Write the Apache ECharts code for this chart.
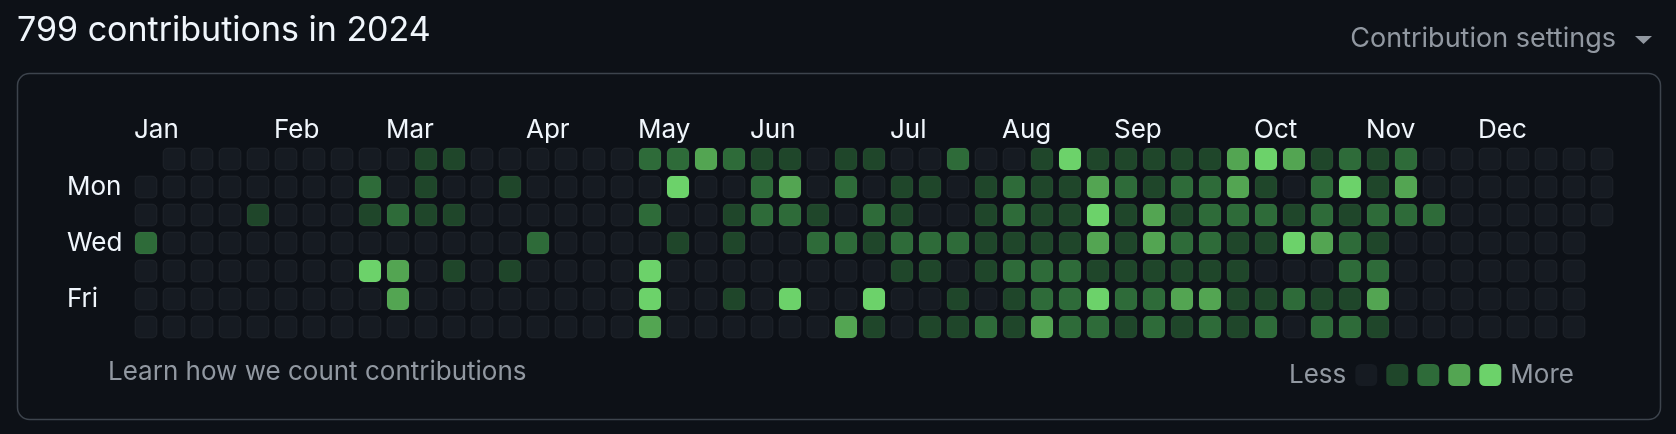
<!DOCTYPE html>
<html>
<head>
<meta charset="utf-8">
<script src="https://cdn.jsdelivr.net/npm/echarts@6/dist/echarts.min.js"></script>
<style>
html,body{margin:0;padding:0;background:#0d1117;}
#chart{width:1676px;height:434px;}
</style>
</head>
<body>
<div id="chart"></div>
<script>
// Contribution levels (0-4) per weekday row, one entry per week column (53 weeks), null = outside 2024
const sunLevels = [null,0,0,0,0,0,0,0,0,0,1,1,0,0,0,0,0,0,2,2,3,2,1,1,0,1,1,0,0,2,0,0,1,4,1,1,1,1,1,3,4,3,1,2,1,2,0,0,0,0,0,0,0];
const monLevels = [0,0,0,0,0,0,0,0,2,0,1,0,0,1,0,0,0,0,0,4,0,0,2,3,0,2,0,1,1,0,1,2,1,1,3,2,1,2,2,3,1,0,2,4,1,3,0,0,0,0,0,0,0];
const tueLevels = [0,0,0,0,1,0,0,0,1,2,1,1,0,0,0,0,0,0,2,0,0,1,2,2,1,0,2,1,0,0,1,2,1,1,4,1,3,1,2,2,2,1,2,1,2,2,2,0,0,0,0,0,0];
const wedLevels = [2,0,0,0,0,0,0,0,0,0,0,0,0,0,2,0,0,0,0,1,0,1,0,0,2,2,1,2,2,2,1,1,1,1,3,1,3,2,2,1,1,4,3,2,1,0,0,0,0,0,0,0,null];
const thuLevels = [0,0,0,0,0,0,0,0,4,3,0,1,0,1,0,0,0,0,4,0,0,0,0,0,0,0,0,1,1,0,1,2,2,2,1,1,1,1,1,1,0,0,0,2,2,0,0,0,0,0,0,0,null];
const friLevels = [0,0,0,0,0,0,0,0,0,3,0,0,0,0,0,0,0,0,4,0,0,1,0,4,0,0,4,0,0,1,0,1,2,2,4,2,2,3,3,1,1,2,1,1,3,0,0,0,0,0,0,0,null];
const satLevels = [0,0,0,0,0,0,0,0,0,0,0,0,0,0,0,0,0,0,3,0,0,0,0,0,0,3,1,0,1,1,2,1,3,2,2,1,2,1,2,1,2,0,2,2,1,0,0,0,0,0,0,0,null];

const dayNames = ['Sun','Mon','Tue','Wed','Thu','Fri','Sat'];
const dayLabels = ['', 'Mon', '', 'Wed', '', 'Fri', ''];
// month label -> week column where the label starts
const monthNames = ['Jan','Feb','Mar','Apr','May','Jun','Jul','Aug','Sep','Oct','Nov','Dec'];
const monthWeeks = [0,5,9,14,18,22,27,31,35,40,44,48];
const levelColors = ['#161b22','#1f462a','#2e6b39','#53a552','#6cd26a'];

const rows = [sunLevels, monLevels, tueLevels, wedLevels, thuLevels, friLevels, satLevels];
const cells = [];
rows.forEach(function (row, d) {
  row.forEach(function (lvl, w) {
    if (lvl !== null) cells.push([w, d, lvl]);
  });
});

const FONT = 'Inter, "Noto Sans", sans-serif';
const chart = echarts.init(document.getElementById('chart'), null, {renderer: 'canvas'});
chart.setOption({
  backgroundColor: '#0d1117',
  animation: false,
  title: [
    {text: '799 contributions in 2024', left: 17, top: 14, padding: 0,
     textStyle: {color: '#f0f6fc', fontSize: 34, fontWeight: 'normal', fontFamily: FONT}},
    {text: 'Contribution settings', right: 60, top: 25, padding: 0,
     textStyle: {color: '#9198a1', fontSize: 27, fontWeight: 'normal', fontFamily: FONT}},
    {text: 'Learn how we count contributions', left: 108, top: 359, padding: 0,
     textStyle: {color: '#9198a1', fontSize: 26, fontWeight: 'normal', fontFamily: FONT}}
  ],
  graphic: [
    {type: 'rect', shape: {x: 17.5, y: 73.5, width: 1643, height: 346, r: 12},
     style: {fill: 'none', stroke: '#3d444d', lineWidth: 1.5}, z: -1},
    {type: 'polygon', shape: {points: [[1635, 36], [1652, 36], [1643.5, 44]]},
     style: {fill: '#9198a1'}}
  ],
  grid: {left: 132, top: 145, width: 1484, height: 196},
  xAxis: {
    type: 'value', position: 'top', min: 0, max: 53, interval: 1,
    axisLine: {show: false}, axisTick: {show: false}, splitLine: {show: false},
    axisLabel: {
      show: true, align: 'left', margin: 2, color: '#f0f6fc', fontSize: 26, fontFamily: FONT,
      padding: [0, 0, 0, 2],
      showMinLabel: true, showMaxLabel: true,
      formatter: function (v) {
        const i = monthWeeks.indexOf(v);
        return i >= 0 ? monthNames[i] : '';
      }
    }
  },
  yAxis: {
    type: 'category', data: dayNames, inverse: true,
    axisLine: {show: false}, axisTick: {show: false}, splitLine: {show: false},
    axisLabel: {
      align: 'left', margin: 65, color: '#f0f6fc', fontSize: 26, fontFamily: FONT, interval: 0,
      formatter: function (v, i) { return dayLabels[i]; }
    }
  },
  visualMap: {
    type: 'piecewise', orient: 'horizontal', seriesIndex: 0, dimension: 2,
    left: 1274, top: 347,
    pieces: [{value: 0}, {value: 1}, {value: 2}, {value: 3}, {value: 4}],
    inRange: {color: levelColors},
    text: ['More', 'Less'], textGap: 10,
    itemWidth: 22, itemHeight: 22, itemGap: 9, itemSymbol: 'roundRect',
    showLabel: false, hoverLink: false, selectedMode: false,
    textStyle: {color: '#9198a1', fontSize: 26, fontFamily: FONT}
  },
  series: [{
    type: 'custom',
    coordinateSystem: 'cartesian2d',
    data: cells,
    encode: {x: 0, y: 1},
    renderItem: function (params, api) {
      const p = api.coord([api.value(0), api.value(1)]);
      const s = api.size([1, 1]);
      const cw = s[0] - 6, ch = s[1] - 6;
      return {
        type: 'rect',
        shape: {x: p[0] + 3, y: p[1] - ch / 2, width: cw, height: ch, r: 5},
        style: {fill: api.visual('color'), stroke: 'rgba(255,255,255,0.05)', lineWidth: 1}
      };
    }
  }]
});
</script>
</body>
</html>
